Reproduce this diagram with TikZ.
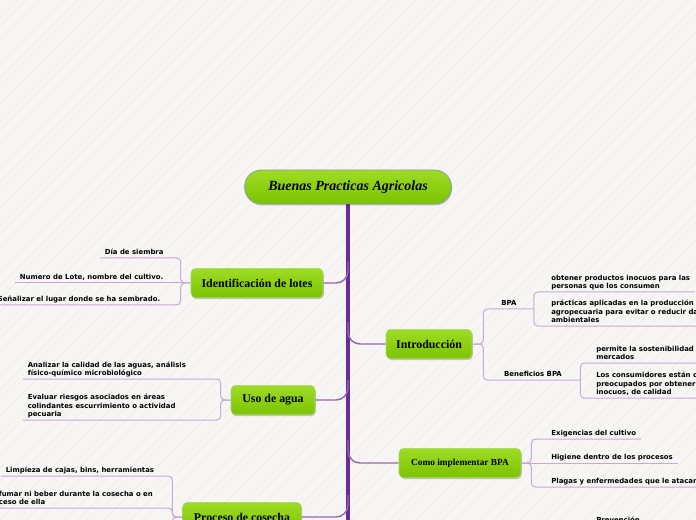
\documentclass[tikz,border=0pt]{standalone}
\usepackage{fontspec}
\setmainfont{Liberation Serif}
\newfontfamily\leaffam{DejaVu Sans}
\usetikzlibrary{shadows}
\definecolor{paper}{HTML}{F7F6F4}
\definecolor{paperline}{HTML}{EDEBE7}
\definecolor{spinepurple}{HTML}{6A2C92}
\definecolor{limbpurple}{HTML}{9466B4}
\definecolor{twigpurple}{HTML}{C7A8D9}
\definecolor{greentop}{HTML}{9EDC24}
\definecolor{greenbot}{HTML}{7BC300}
\definecolor{greenedge}{HTML}{A6D66A}
\definecolor{rootedge}{HTML}{86A39B}

\begin{document}
\begin{tikzpicture}[
  x=0.75pt,y=-0.75pt,
  topic/.style={rounded corners=3.5pt, draw=greenedge, line width=0.4pt, top color=greentop, bottom color=greenbot, minimum height=22pt, inner xsep=0pt, font=\fontsize{8.9}{10}\selectfont\bfseries, drop shadow={shadow xshift=0.6pt, shadow yshift=-1.1pt, opacity=0.22, fill=black}},
  leaf/.style={font=\leaffam\bfseries\fontsize{5.2}{6.4}\selectfont, align=left, inner xsep=3.4pt, inner ysep=1pt, text depth=1.2pt},
  limb/.style={draw=limbpurple, line width=1.1pt, rounded corners=9pt},
  twig/.style={draw=twigpurple, line width=0.75pt, rounded corners=3pt},
  spine/.style={draw=spinepurple, line width=2.3pt}
]
\useasboundingbox (0,0) rectangle (696,520);
\fill[paper] (0,0) rectangle (696,520);
\begin{scope}
\clip (0,0) rectangle (696,520);
\foreach \i in {-520,-507,...,700}
  \draw[paperline, line width=0.4pt] (\i,520) -- ++(520,-520);
\end{scope}

\node[topic, rounded corners=12.5pt, draw=rootedge, line width=0.6pt, minimum width=155pt, minimum height=25.5pt, font=\fontsize{10.5}{12}\selectfont\bfseries\itshape] (root) at (348,187) {Buenas Practicas Agricolas};
\draw[spine] (root.south) -- (348,530);

\node[topic, minimum width=99pt] (ident) at (257,283) {Identificación de lotes};
\node[topic, minimum width=63pt] (agua) at (273,400) {Uso de agua};
\node[topic, minimum width=89pt] (cosecha) at (242,517) {Proceso de cosecha};
\node[topic, minimum width=64.5pt] (intro) at (429,344) {Introducción};
\node[topic, minimum width=91.5pt, font=\fontsize{7}{9}\selectfont\bfseries] (como) at (460,463) {Como implementar BPA};

\draw[limb] (ident.east) -| (348,262);
\draw[limb] (agua.east) -| (348,380);
\draw[limb] (cosecha.east) -| (348,495);
\draw[limb] (intro.west) -| (348,322);
\draw[limb] (como.west) -| (348,440);

\node[leaf, anchor=south west] (d1) at (100,258) {Día de siembra};
\node[leaf, anchor=south west] (d2) at (15,283) {Numero de Lote, nombre del cultivo.};
\node[leaf, anchor=south west] (d3) at (-7,305) {Señalizar el lugar donde se ha sembrado.};
\draw[twig] (ident.west) -- (d2.south west);
\draw[twig] (ident.west) -- ++(-10,0) |- (d1.south west);
\draw[twig] (ident.west) -- ++(-10,0) |- (d3.south west);

\node[leaf, anchor=south west] (a1) at (23,379) {Analizar la calidad de las aguas, análisis\\físico-químico microbiológico};
\node[leaf, anchor=south west] (a2) at (23,420) {Evaluar riesgos asociados en áreas\\colindantes escurrimiento o actividad\\pecuaria};
\draw[twig] (agua.west) -- ++(-10,0) |- (a1.south west);
\draw[twig] (agua.west) -- ++(-10,0) |- (a2.south west);

\node[leaf, anchor=south west] (c1) at (1,476) {Limpieza de cajas, bins, herramientas};
\node[leaf, anchor=south west] (c2) at (-19,508) {No fumar ni beber durante la cosecha o en\\proceso de ella};
\draw[twig] (cosecha.west) -- ++(-10,0) |- (c1.south west);
\draw[twig] (cosecha.west) -- ++(-10,0) |- (c2.south west);
\draw[twig] (cosecha.west) -- ++(-10,0) -- ++(0,30);

\node[leaf, anchor=south, minimum width=36.75pt, inner xsep=0pt] (bpa) at (509,309) {BPA};
\node[leaf, anchor=south, minimum width=70.5pt, inner xsep=0pt] (benef) at (533,380) {Beneficios BPA};
\draw[twig] (intro.east) -- ++(11,0) |- (bpa.south east);
\draw[twig] (intro.east) -- ++(11,0) |- (benef.south east);

\node[leaf, anchor=south west] (o1) at (546.5,292) {obtener productos inocuos para las\\personas que los consumen};
\node[leaf, anchor=south west] (o2) at (546.5,326) {prácticas aplicadas en la producción\\agropecuaria para evitar o reducir daños\\ambientales};
\draw[twig] (bpa.south east) |- (o1.south east);
\draw[twig] (bpa.south east) |- (o2.south east);

\node[leaf, anchor=south west] (p1) at (591.5,363) {permite la sostenibilidad y acceso a\\mercados};
\node[leaf, anchor=south west] (p2) at (591.5,398) {Los consumidores están cada vez más\\preocupados por obtener alimentos\\inocuos, de calidad};
\draw[twig] (benef.south east) |- (p1.south east);
\draw[twig] (benef.south east) |- (p2.south east);

\node[leaf, anchor=south west] (e1) at (546.5,439) {Exigencias del cultivo};
\node[leaf, anchor=south west] (e2) at (546.5,463) {Higiene dentro de los procesos};
\node[leaf, anchor=south west] (e3) at (546.5,487) {Plagas y enfermedades que le atacan};
\draw[twig] (como.east) -- (e2.south east);
\draw[twig] (como.east) -- ++(10,0) |- (e1.south east);
\draw[twig] (como.east) -- ++(10,0) |- (e3.south east);

\node[leaf, anchor=north west] (prev) at (591.5,515) {Prevención};
\end{tikzpicture}
\end{document}
